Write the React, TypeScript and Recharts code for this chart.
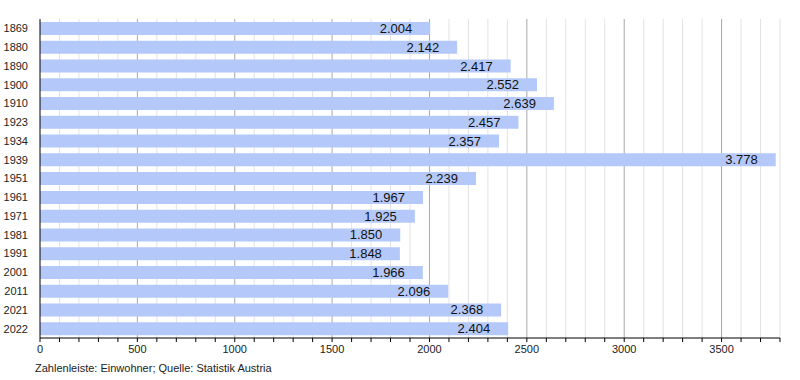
import { BarChart, Bar, XAxis, YAxis, CartesianGrid, LabelList } from "recharts";

const years = ["1869", "1880", "1890", "1900", "1910", "1923", "1934", "1939", "1951", "1961", "1971", "1981", "1991", "2001", "2011", "2021", "2022"];
const population = [2004, 2142, 2417, 2552, 2639, 2457, 2357, 3778, 2239, 1967, 1925, 1850, 1848, 1966, 2096, 2368, 2404];

const xTicks = Array.from({ length: 39 }, (_, i) => i * 100);
const majorTicks = [500, 1000, 1500, 2000, 2500, 3000, 3500];
const minorTicks = xTicks.filter((t) => t > 0 && t % 500 !== 0);

const data = years.map((year, i) => ({ year, value: population[i] }));

const FONT = "'Liberation Sans', Arial, sans-serif";

const fmt = (v: number) => (v / 1000).toFixed(3);

function XTick(props: any) {
  const { x, y, payload } = props;
  if (payload.value % 500 !== 0) return null;
  return (
    <text x={x} y={y} dy={9} textAnchor="middle" fontSize={11} fontFamily={FONT} fill="#222">
      {payload.value}
    </text>
  );
}

function ValueLabel(props: any) {
  const { x, y, width, height, value } = props;
  return (
    <text x={x + width - 18} y={y + height / 2 + 4.5} textAnchor="end" fontSize={13} fontFamily={FONT} fill="#111">
      {fmt(value)}
    </text>
  );
}

export default function App() {
  return (
    <div style={{ position: "absolute", left: 0, top: 0, width: 800, height: 380, background: "#fff" }}>
      <BarChart
        width={800}
        height={380}
        data={data}
        layout="vertical"
        margin={{ top: 19, right: 20, bottom: 22, left: 0 }}
        barCategoryGap={3}
      >
        <CartesianGrid horizontal={false} verticalValues={minorTicks} stroke="#e2e2e2" />
        <CartesianGrid horizontal={false} verticalValues={majorTicks} stroke="#a8a8a8" />
        <XAxis
          type="number"
          domain={[0, 3800]}
          ticks={xTicks}
          interval={0}
          tick={<XTick />}
          tickSize={4}
          tickLine={{ stroke: "#000" }}
          axisLine={{ stroke: "#000" }}
          height={20}
          allowDataOverflow
        />
        <YAxis
          type="category"
          dataKey="year"
          width={40}
          tickLine={false}
          axisLine={{ stroke: "#000" }}
          tick={{ fontSize: 11, fontFamily: FONT, fill: "#222" }}
          tickMargin={6}
        />
        <Bar dataKey="value" fill="#b4c9fa" isAnimationActive={false}>
          <LabelList dataKey="value" content={<ValueLabel />} />
        </Bar>
      </BarChart>
      <div
        style={{
          position: "absolute",
          left: 35,
          top: 362,
          fontSize: 11,
          fontFamily: FONT,
          color: "#222",
        }}
      >
        Zahlenleiste: Einwohner; Quelle: Statistik Austria
      </div>
    </div>
  );
}
